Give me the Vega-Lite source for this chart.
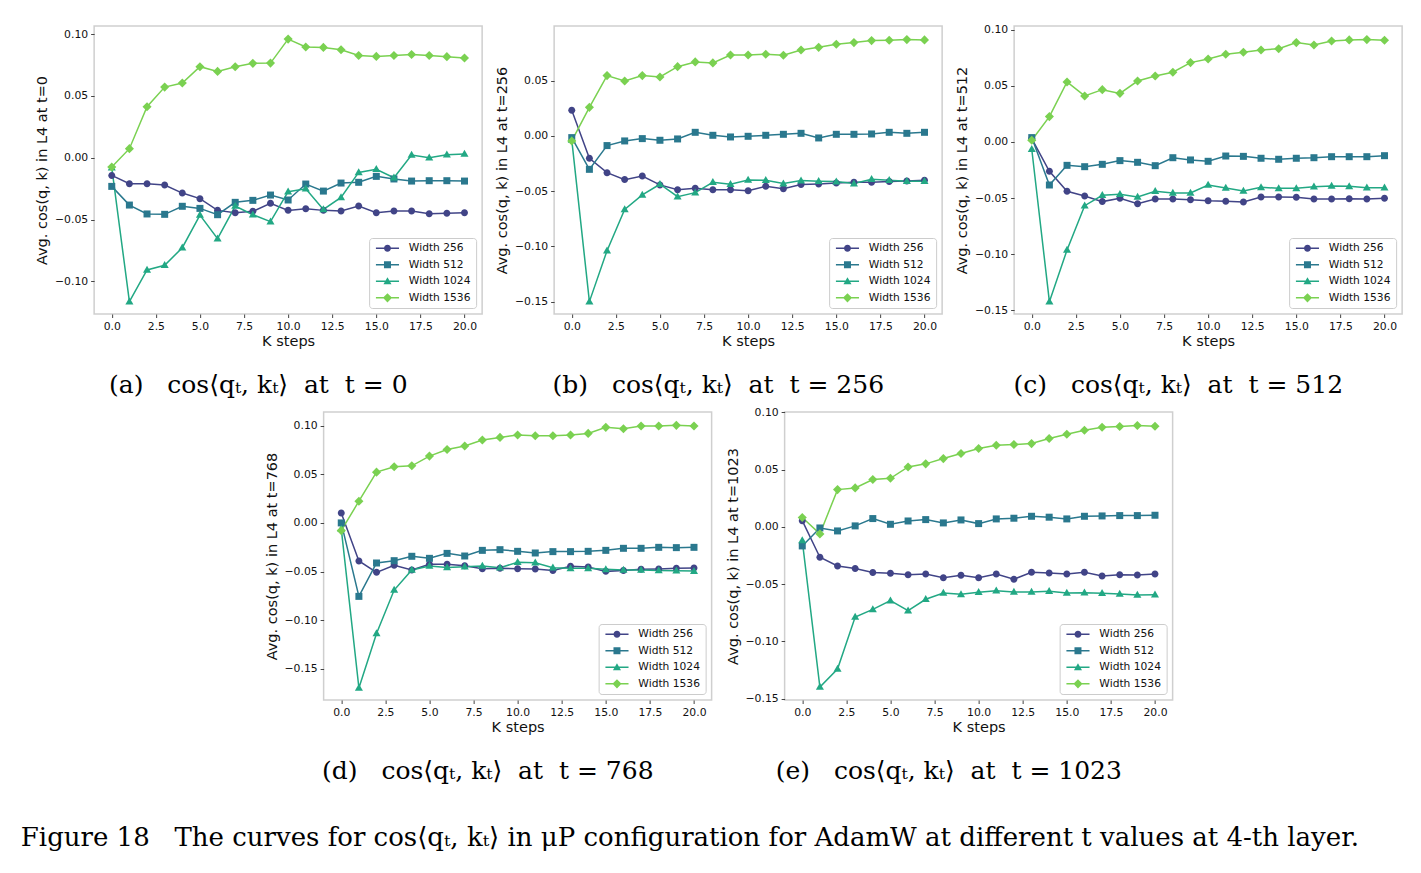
{
"$schema": "https://vega.github.io/schema/vega-lite/v6.json",
"background": "white",
"padding": {"left": 20, "top": 22, "right": 5, "bottom": 5},
"title": {"text": "Figure 18\u00a0\u00a0 The curves for cos⟨qₜ, kₜ⟩ in μP configuration for AdamW at different t values at 4-th layer.", "orient": "bottom", "anchor": "start", "frame": "bounds", "font": "DejaVu Serif", "fontSize": 26, "offset": 40, "dx": -13},
"datasets": {
"a": [
{"k":0,"Width 256":-0.0143,"Width 512":-0.0232,"Width 1024":-0.0080,"Width 1536":-0.0075},
{"k":1,"Width 256":-0.0210,"Width 512":-0.0383,"Width 1024":-0.1164,"Width 1536":0.0073},
{"k":2,"Width 256":-0.0210,"Width 512":-0.0455,"Width 1024":-0.0908,"Width 1536":0.0412},
{"k":3,"Width 256":-0.0221,"Width 512":-0.0458,"Width 1024":-0.0870,"Width 1536":0.0571},
{"k":4,"Width 256":-0.0286,"Width 512":-0.0393,"Width 1024":-0.0728,"Width 1536":0.0604},
{"k":5,"Width 256":-0.0331,"Width 512":-0.0410,"Width 1024":-0.0464,"Width 1536":0.0736},
{"k":6,"Width 256":-0.0426,"Width 512":-0.0461,"Width 1024":-0.0655,"Width 1536":0.0698},
{"k":7,"Width 256":-0.0445,"Width 512":-0.0361,"Width 1024":-0.0391,"Width 1536":0.0736},
{"k":8,"Width 256":-0.0434,"Width 512":-0.0345,"Width 1024":-0.0461,"Width 1536":0.0763},
{"k":9,"Width 256":-0.0369,"Width 512":-0.0302,"Width 1024":-0.0517,"Width 1536":0.0765},
{"k":10,"Width 256":-0.0426,"Width 512":-0.0342,"Width 1024":-0.0275,"Width 1536":0.0959},
{"k":11,"Width 256":-0.0412,"Width 512":-0.0213,"Width 1024":-0.0251,"Width 1536":0.0895},
{"k":12,"Width 256":-0.0426,"Width 512":-0.0270,"Width 1024":-0.0418,"Width 1536":0.0892},
{"k":13,"Width 256":-0.0431,"Width 512":-0.0205,"Width 1024":-0.0321,"Width 1536":0.0873},
{"k":14,"Width 256":-0.0391,"Width 512":-0.0199,"Width 1024":-0.0119,"Width 1536":0.0827},
{"k":15,"Width 256":-0.0445,"Width 512":-0.0151,"Width 1024":-0.0094,"Width 1536":0.0819},
{"k":16,"Width 256":-0.0431,"Width 512":-0.0172,"Width 1024":-0.0162,"Width 1536":0.0827},
{"k":17,"Width 256":-0.0431,"Width 512":-0.0189,"Width 1024":0.0022,"Width 1536":0.0835},
{"k":18,"Width 256":-0.0453,"Width 512":-0.0186,"Width 1024":0.0000,"Width 1536":0.0827},
{"k":19,"Width 256":-0.0450,"Width 512":-0.0186,"Width 1024":0.0024,"Width 1536":0.0817},
{"k":20,"Width 256":-0.0445,"Width 512":-0.0189,"Width 1024":0.0030,"Width 1536":0.0806}
],
"b": [
{"k":0,"Width 256":0.0232,"Width 512":-0.0015,"Width 1024":-0.0036,"Width 1536":-0.0045},
{"k":1,"Width 256":-0.0202,"Width 512":-0.0302,"Width 1024":-0.1499,"Width 1536":0.0259},
{"k":2,"Width 256":-0.0332,"Width 512":-0.0087,"Width 1024":-0.1038,"Width 1536":0.0546},
{"k":3,"Width 256":-0.0395,"Width 512":-0.0045,"Width 1024":-0.0664,"Width 1536":0.0498},
{"k":4,"Width 256":-0.0362,"Width 512":-0.0024,"Width 1024":-0.0534,"Width 1536":0.0546},
{"k":5,"Width 256":-0.0443,"Width 512":-0.0039,"Width 1024":-0.0437,"Width 1536":0.0534},
{"k":6,"Width 256":-0.0486,"Width 512":-0.0027,"Width 1024":-0.0549,"Width 1536":0.0627},
{"k":7,"Width 256":-0.0474,"Width 512":0.0033,"Width 1024":-0.0513,"Width 1536":0.0670},
{"k":8,"Width 256":-0.0486,"Width 512":0.0006,"Width 1024":-0.0419,"Width 1536":0.0661},
{"k":9,"Width 256":-0.0486,"Width 512":-0.0009,"Width 1024":-0.0437,"Width 1536":0.0733},
{"k":10,"Width 256":-0.0495,"Width 512":-0.0003,"Width 1024":-0.0398,"Width 1536":0.0733},
{"k":11,"Width 256":-0.0456,"Width 512":0.0006,"Width 1024":-0.0401,"Width 1536":0.0739},
{"k":12,"Width 256":-0.0477,"Width 512":0.0015,"Width 1024":-0.0431,"Width 1536":0.0730},
{"k":13,"Width 256":-0.0440,"Width 512":0.0024,"Width 1024":-0.0404,"Width 1536":0.0778},
{"k":14,"Width 256":-0.0434,"Width 512":-0.0018,"Width 1024":-0.0410,"Width 1536":0.0802},
{"k":15,"Width 256":-0.0425,"Width 512":0.0015,"Width 1024":-0.0413,"Width 1536":0.0830},
{"k":16,"Width 256":-0.0419,"Width 512":0.0015,"Width 1024":-0.0431,"Width 1536":0.0845},
{"k":17,"Width 256":-0.0419,"Width 512":0.0018,"Width 1024":-0.0392,"Width 1536":0.0863},
{"k":18,"Width 256":-0.0413,"Width 512":0.0033,"Width 1024":-0.0401,"Width 1536":0.0866},
{"k":19,"Width 256":-0.0407,"Width 512":0.0024,"Width 1024":-0.0410,"Width 1536":0.0872},
{"k":20,"Width 256":-0.0401,"Width 512":0.0033,"Width 1024":-0.0410,"Width 1536":0.0869}
],
"c": [
{"k":0,"Width 256":0.0030,"Width 512":0.0039,"Width 1024":-0.0065,"Width 1536":0.0015},
{"k":1,"Width 256":-0.0261,"Width 512":-0.0383,"Width 1024":-0.1422,"Width 1536":0.0226},
{"k":2,"Width 256":-0.0439,"Width 512":-0.0208,"Width 1024":-0.0962,"Width 1536":0.0534},
{"k":3,"Width 256":-0.0481,"Width 512":-0.0220,"Width 1024":-0.0567,"Width 1536":0.0410},
{"k":4,"Width 256":-0.0531,"Width 512":-0.0199,"Width 1024":-0.0475,"Width 1536":0.0466},
{"k":5,"Width 256":-0.0502,"Width 512":-0.0166,"Width 1024":-0.0466,"Width 1536":0.0433},
{"k":6,"Width 256":-0.0549,"Width 512":-0.0181,"Width 1024":-0.0490,"Width 1536":0.0543},
{"k":7,"Width 256":-0.0508,"Width 512":-0.0211,"Width 1024":-0.0439,"Width 1536":0.0588},
{"k":8,"Width 256":-0.0508,"Width 512":-0.0140,"Width 1024":-0.0454,"Width 1536":0.0621},
{"k":9,"Width 256":-0.0514,"Width 512":-0.0160,"Width 1024":-0.0454,"Width 1536":0.0707},
{"k":10,"Width 256":-0.0523,"Width 512":-0.0172,"Width 1024":-0.0383,"Width 1536":0.0739},
{"k":11,"Width 256":-0.0528,"Width 512":-0.0125,"Width 1024":-0.0410,"Width 1536":0.0781},
{"k":12,"Width 256":-0.0534,"Width 512":-0.0128,"Width 1024":-0.0436,"Width 1536":0.0799},
{"k":13,"Width 256":-0.0490,"Width 512":-0.0145,"Width 1024":-0.0404,"Width 1536":0.0819},
{"k":14,"Width 256":-0.0490,"Width 512":-0.0154,"Width 1024":-0.0413,"Width 1536":0.0831},
{"k":15,"Width 256":-0.0493,"Width 512":-0.0145,"Width 1024":-0.0413,"Width 1536":0.0885},
{"k":16,"Width 256":-0.0508,"Width 512":-0.0140,"Width 1024":-0.0398,"Width 1536":0.0864},
{"k":17,"Width 256":-0.0508,"Width 512":-0.0131,"Width 1024":-0.0392,"Width 1536":0.0900},
{"k":18,"Width 256":-0.0505,"Width 512":-0.0131,"Width 1024":-0.0395,"Width 1536":0.0909},
{"k":19,"Width 256":-0.0508,"Width 512":-0.0131,"Width 1024":-0.0407,"Width 1536":0.0912},
{"k":20,"Width 256":-0.0502,"Width 512":-0.0122,"Width 1024":-0.0407,"Width 1536":0.0906}
],
"d": [
{"k":0,"Width 256":0.0103,"Width 512":0.0000,"Width 1024":-0.0062,"Width 1536":-0.0079},
{"k":1,"Width 256":-0.0391,"Width 512":-0.0755,"Width 1024":-0.1696,"Width 1536":0.0223},
{"k":2,"Width 256":-0.0508,"Width 512":-0.0412,"Width 1024":-0.1137,"Width 1536":0.0522},
{"k":3,"Width 256":-0.0436,"Width 512":-0.0388,"Width 1024":-0.0690,"Width 1536":0.0577},
{"k":4,"Width 256":-0.0484,"Width 512":-0.0343,"Width 1024":-0.0484,"Width 1536":0.0587},
{"k":5,"Width 256":-0.0426,"Width 512":-0.0364,"Width 1024":-0.0443,"Width 1536":0.0687},
{"k":6,"Width 256":-0.0426,"Width 512":-0.0313,"Width 1024":-0.0457,"Width 1536":0.0755},
{"k":7,"Width 256":-0.0440,"Width 512":-0.0340,"Width 1024":-0.0450,"Width 1536":0.0790},
{"k":8,"Width 256":-0.0470,"Width 512":-0.0282,"Width 1024":-0.0443,"Width 1536":0.0852},
{"k":9,"Width 256":-0.0467,"Width 512":-0.0275,"Width 1024":-0.0460,"Width 1536":0.0879},
{"k":10,"Width 256":-0.0470,"Width 512":-0.0292,"Width 1024":-0.0405,"Width 1536":0.0903},
{"k":11,"Width 256":-0.0474,"Width 512":-0.0309,"Width 1024":-0.0409,"Width 1536":0.0896},
{"k":12,"Width 256":-0.0488,"Width 512":-0.0295,"Width 1024":-0.0460,"Width 1536":0.0896},
{"k":13,"Width 256":-0.0446,"Width 512":-0.0295,"Width 1024":-0.0467,"Width 1536":0.0903},
{"k":14,"Width 256":-0.0453,"Width 512":-0.0292,"Width 1024":-0.0467,"Width 1536":0.0920},
{"k":15,"Width 256":-0.0498,"Width 512":-0.0282,"Width 1024":-0.0477,"Width 1536":0.0982},
{"k":16,"Width 256":-0.0488,"Width 512":-0.0261,"Width 1024":-0.0484,"Width 1536":0.0968},
{"k":17,"Width 256":-0.0477,"Width 512":-0.0261,"Width 1024":-0.0484,"Width 1536":0.0996},
{"k":18,"Width 256":-0.0474,"Width 512":-0.0251,"Width 1024":-0.0488,"Width 1536":0.0996},
{"k":19,"Width 256":-0.0467,"Width 512":-0.0254,"Width 1024":-0.0491,"Width 1536":0.1003},
{"k":20,"Width 256":-0.0464,"Width 512":-0.0251,"Width 1024":-0.0495,"Width 1536":0.0996}
],
"e": [
{"k":0,"Width 256":0.0055,"Width 512":-0.0166,"Width 1024":-0.0119,"Width 1536":0.0082},
{"k":1,"Width 256":-0.0265,"Width 512":-0.0009,"Width 1024":-0.1399,"Width 1536":-0.0061},
{"k":2,"Width 256":-0.0341,"Width 512":-0.0035,"Width 1024":-0.1241,"Width 1536":0.0326},
{"k":3,"Width 256":-0.0364,"Width 512":0.0009,"Width 1024":-0.0787,"Width 1536":0.0341},
{"k":4,"Width 256":-0.0399,"Width 512":0.0073,"Width 1024":-0.0720,"Width 1536":0.0414},
{"k":5,"Width 256":-0.0405,"Width 512":0.0023,"Width 1024":-0.0644,"Width 1536":0.0425},
{"k":6,"Width 256":-0.0417,"Width 512":0.0052,"Width 1024":-0.0731,"Width 1536":0.0524},
{"k":7,"Width 256":-0.0411,"Width 512":0.0064,"Width 1024":-0.0632,"Width 1536":0.0551},
{"k":8,"Width 256":-0.0443,"Width 512":0.0035,"Width 1024":-0.0577,"Width 1536":0.0597},
{"k":9,"Width 256":-0.0423,"Width 512":0.0061,"Width 1024":-0.0589,"Width 1536":0.0641},
{"k":10,"Width 256":-0.0443,"Width 512":0.0029,"Width 1024":-0.0571,"Width 1536":0.0685},
{"k":11,"Width 256":-0.0411,"Width 512":0.0070,"Width 1024":-0.0557,"Width 1536":0.0714},
{"k":12,"Width 256":-0.0457,"Width 512":0.0076,"Width 1024":-0.0568,"Width 1536":0.0720},
{"k":13,"Width 256":-0.0396,"Width 512":0.0093,"Width 1024":-0.0568,"Width 1536":0.0728},
{"k":14,"Width 256":-0.0402,"Width 512":0.0085,"Width 1024":-0.0562,"Width 1536":0.0772},
{"k":15,"Width 256":-0.0411,"Width 512":0.0070,"Width 1024":-0.0577,"Width 1536":0.0810},
{"k":16,"Width 256":-0.0396,"Width 512":0.0093,"Width 1024":-0.0574,"Width 1536":0.0845},
{"k":17,"Width 256":-0.0428,"Width 512":0.0096,"Width 1024":-0.0580,"Width 1536":0.0871},
{"k":18,"Width 256":-0.0417,"Width 512":0.0099,"Width 1024":-0.0586,"Width 1536":0.0877},
{"k":19,"Width 256":-0.0420,"Width 512":0.0099,"Width 1024":-0.0594,"Width 1536":0.0886},
{"k":20,"Width 256":-0.0411,"Width 512":0.0102,"Width 1024":-0.0592,"Width 1536":0.0880}
]
},
"vconcat": [
{"hconcat": [
{"width": 388, "height": 288, "data": {"name": "a"},
 "transform": [{"fold": ["Width 256","Width 512","Width 1024","Width 1536"], "as": ["series","v"]}],
 "title": {"text": "(a)\u00a0\u00a0 cos⟨qₜ, kₜ⟩\u00a0 at\u00a0 t = 0"},
 "encoding": {
  "x": {"field": "k", "type": "quantitative", "scale": {"domain": [-1, 21], "nice": false, "zero": false}, "axis": {"values": [0,2.5,5,7.5,10,12.5,15,17.5,20], "format": ".1f", "title": "K steps", "labelFlush": false}},
  "y": {"field": "v", "type": "quantitative", "scale": {"domain": [-0.1264, 0.1065], "nice": false, "zero": false}, "axis": {"values": [-0.1,-0.05,0,0.05,0.1], "format": ".2f", "title": "Avg. cos(q, k) in L4 at t=0"}}
 },
 "layer": [
  {"mark": {"type": "line", "strokeWidth": 1.5}, "encoding": {"color": {"field": "series", "type": "nominal", "scale": {"domain": ["Width 256","Width 512","Width 1024","Width 1536"], "range": ["#414487","#2a788e","#22a884","#7ad151"]}, "legend": null}}},
  {"mark": {"type": "point", "filled": true, "opacity": 1, "size": 49}, "encoding": {"color": {"field": "series", "type": "nominal", "scale": {"domain": ["Width 256","Width 512","Width 1024","Width 1536"], "range": ["#414487","#2a788e","#22a884","#7ad151"]}, "legend": null}, "shape": {"field": "series", "type": "nominal", "scale": {"domain": ["Width 256","Width 512","Width 1024","Width 1536"], "range": ["M1,0A1,1 0 1,1 -1,0A1,1 0 1,1 1,0Z", "M-1,-1H1V1H-1Z", "M0,-1.2L1.15,0.8H-1.15Z", "M0,-1.3L1.3,0L0,1.3L-1.3,0Z"]}, "legend": null}}},
  {"transform": [{"filter": "datum.k < -100"}], "mark": {"type": "point", "filled": true, "opacity": 1, "size": 49}, "encoding": {"color": {"field": "series", "type": "nominal", "scale": {"domain": ["Width 256","Width 512","Width 1024","Width 1536"], "range": ["#414487","#2a788e","#22a884","#7ad151"]}, "legend": {"title": null}}, "shape": {"field": "series", "type": "nominal", "scale": {"domain": ["Width 256","Width 512","Width 1024","Width 1536"], "range": ["M-3.3,-0.21H3.3V0.21H-3.3Z M1,0A1,1 0 1,1 -1,0A1,1 0 1,1 1,0Z", "M-3.3,-0.21H3.3V0.21H-3.3Z M-1,-1H1V1H-1Z", "M-3.3,-0.21H3.3V0.21H-3.3Z M0,-1.2L1.15,0.8H-1.15Z", "M-3.3,-0.21H3.3V0.21H-3.3Z M0,-1.3L1.3,0L0,1.3L-1.3,0Z"]}, "legend": {"title": null}}}}
 ],
 "resolve": {"scale": {"color": "independent", "shape": "independent"}}
},
{"width": 388, "height": 288, "data": {"name": "b"},
 "transform": [{"fold": ["Width 256","Width 512","Width 1024","Width 1536"], "as": ["series","v"]}],
 "title": {"text": "(b)\u00a0\u00a0 cos⟨qₜ, kₜ⟩\u00a0 at\u00a0 t = 256"},
 "encoding": {
  "x": {"field": "k", "type": "quantitative", "scale": {"domain": [-1, 21], "nice": false, "zero": false}, "axis": {"values": [0,2.5,5,7.5,10,12.5,15,17.5,20], "format": ".1f", "title": "K steps", "labelFlush": false}},
  "y": {"field": "v", "type": "quantitative", "scale": {"domain": [-0.1611, 0.0995], "nice": false, "zero": false}, "axis": {"values": [-0.15,-0.1,-0.05,0,0.05], "format": ".2f", "title": "Avg. cos(q, k) in L4 at t=256"}}
 },
 "layer": [
  {"mark": {"type": "line", "strokeWidth": 1.5}, "encoding": {"color": {"field": "series", "type": "nominal", "scale": {"domain": ["Width 256","Width 512","Width 1024","Width 1536"], "range": ["#414487","#2a788e","#22a884","#7ad151"]}, "legend": null}}},
  {"mark": {"type": "point", "filled": true, "opacity": 1, "size": 49}, "encoding": {"color": {"field": "series", "type": "nominal", "scale": {"domain": ["Width 256","Width 512","Width 1024","Width 1536"], "range": ["#414487","#2a788e","#22a884","#7ad151"]}, "legend": null}, "shape": {"field": "series", "type": "nominal", "scale": {"domain": ["Width 256","Width 512","Width 1024","Width 1536"], "range": ["M1,0A1,1 0 1,1 -1,0A1,1 0 1,1 1,0Z", "M-1,-1H1V1H-1Z", "M0,-1.2L1.15,0.8H-1.15Z", "M0,-1.3L1.3,0L0,1.3L-1.3,0Z"]}, "legend": null}}},
  {"transform": [{"filter": "datum.k < -100"}], "mark": {"type": "point", "filled": true, "opacity": 1, "size": 49}, "encoding": {"color": {"field": "series", "type": "nominal", "scale": {"domain": ["Width 256","Width 512","Width 1024","Width 1536"], "range": ["#414487","#2a788e","#22a884","#7ad151"]}, "legend": {"title": null}}, "shape": {"field": "series", "type": "nominal", "scale": {"domain": ["Width 256","Width 512","Width 1024","Width 1536"], "range": ["M-3.3,-0.21H3.3V0.21H-3.3Z M1,0A1,1 0 1,1 -1,0A1,1 0 1,1 1,0Z", "M-3.3,-0.21H3.3V0.21H-3.3Z M-1,-1H1V1H-1Z", "M-3.3,-0.21H3.3V0.21H-3.3Z M0,-1.2L1.15,0.8H-1.15Z", "M-3.3,-0.21H3.3V0.21H-3.3Z M0,-1.3L1.3,0L0,1.3L-1.3,0Z"]}, "legend": {"title": null}}}}
 ],
 "resolve": {"scale": {"color": "independent", "shape": "independent"}}
},
{"width": 388, "height": 288, "data": {"name": "c"},
 "transform": [{"fold": ["Width 256","Width 512","Width 1024","Width 1536"], "as": ["series","v"]}],
 "title": {"text": "(c)\u00a0\u00a0 cos⟨qₜ, kₜ⟩\u00a0 at\u00a0 t = 512"},
 "encoding": {
  "x": {"field": "k", "type": "quantitative", "scale": {"domain": [-1, 21], "nice": false, "zero": false}, "axis": {"values": [0,2.5,5,7.5,10,12.5,15,17.5,20], "format": ".1f", "title": "K steps", "labelFlush": false}},
  "y": {"field": "v", "type": "quantitative", "scale": {"domain": [-0.1532, 0.1033], "nice": false, "zero": false}, "axis": {"values": [-0.15,-0.1,-0.05,0,0.05,0.1], "format": ".2f", "title": "Avg. cos(q, k) in L4 at t=512"}}
 },
 "layer": [
  {"mark": {"type": "line", "strokeWidth": 1.5}, "encoding": {"color": {"field": "series", "type": "nominal", "scale": {"domain": ["Width 256","Width 512","Width 1024","Width 1536"], "range": ["#414487","#2a788e","#22a884","#7ad151"]}, "legend": null}}},
  {"mark": {"type": "point", "filled": true, "opacity": 1, "size": 49}, "encoding": {"color": {"field": "series", "type": "nominal", "scale": {"domain": ["Width 256","Width 512","Width 1024","Width 1536"], "range": ["#414487","#2a788e","#22a884","#7ad151"]}, "legend": null}, "shape": {"field": "series", "type": "nominal", "scale": {"domain": ["Width 256","Width 512","Width 1024","Width 1536"], "range": ["M1,0A1,1 0 1,1 -1,0A1,1 0 1,1 1,0Z", "M-1,-1H1V1H-1Z", "M0,-1.2L1.15,0.8H-1.15Z", "M0,-1.3L1.3,0L0,1.3L-1.3,0Z"]}, "legend": null}}},
  {"transform": [{"filter": "datum.k < -100"}], "mark": {"type": "point", "filled": true, "opacity": 1, "size": 49}, "encoding": {"color": {"field": "series", "type": "nominal", "scale": {"domain": ["Width 256","Width 512","Width 1024","Width 1536"], "range": ["#414487","#2a788e","#22a884","#7ad151"]}, "legend": {"title": null}}, "shape": {"field": "series", "type": "nominal", "scale": {"domain": ["Width 256","Width 512","Width 1024","Width 1536"], "range": ["M-3.3,-0.21H3.3V0.21H-3.3Z M1,0A1,1 0 1,1 -1,0A1,1 0 1,1 1,0Z", "M-3.3,-0.21H3.3V0.21H-3.3Z M-1,-1H1V1H-1Z", "M-3.3,-0.21H3.3V0.21H-3.3Z M0,-1.2L1.15,0.8H-1.15Z", "M-3.3,-0.21H3.3V0.21H-3.3Z M0,-1.3L1.3,0L0,1.3L-1.3,0Z"]}, "legend": {"title": null}}}}
 ],
 "resolve": {"scale": {"color": "independent", "shape": "independent"}}
}
], "spacing": 72, "bounds": "flush"},
{"hconcat": [
{"width": 388, "height": 288, "data": {"name": "d"},
 "transform": [{"fold": ["Width 256","Width 512","Width 1024","Width 1536"], "as": ["series","v"]}],
 "title": {"text": "(d)\u00a0\u00a0 cos⟨qₜ, kₜ⟩\u00a0 at\u00a0 t = 768"},
 "encoding": {
  "x": {"field": "k", "type": "quantitative", "scale": {"domain": [-1, 21], "nice": false, "zero": false}, "axis": {"values": [0,2.5,5,7.5,10,12.5,15,17.5,20], "format": ".1f", "title": "K steps", "labelFlush": false}},
  "y": {"field": "v", "type": "quantitative", "scale": {"domain": [-0.1820, 0.1140], "nice": false, "zero": false}, "axis": {"values": [-0.15,-0.1,-0.05,0,0.05,0.1], "format": ".2f", "title": "Avg. cos(q, k) in L4 at t=768"}}
 },
 "layer": [
  {"mark": {"type": "line", "strokeWidth": 1.5}, "encoding": {"color": {"field": "series", "type": "nominal", "scale": {"domain": ["Width 256","Width 512","Width 1024","Width 1536"], "range": ["#414487","#2a788e","#22a884","#7ad151"]}, "legend": null}}},
  {"mark": {"type": "point", "filled": true, "opacity": 1, "size": 49}, "encoding": {"color": {"field": "series", "type": "nominal", "scale": {"domain": ["Width 256","Width 512","Width 1024","Width 1536"], "range": ["#414487","#2a788e","#22a884","#7ad151"]}, "legend": null}, "shape": {"field": "series", "type": "nominal", "scale": {"domain": ["Width 256","Width 512","Width 1024","Width 1536"], "range": ["M1,0A1,1 0 1,1 -1,0A1,1 0 1,1 1,0Z", "M-1,-1H1V1H-1Z", "M0,-1.2L1.15,0.8H-1.15Z", "M0,-1.3L1.3,0L0,1.3L-1.3,0Z"]}, "legend": null}}},
  {"transform": [{"filter": "datum.k < -100"}], "mark": {"type": "point", "filled": true, "opacity": 1, "size": 49}, "encoding": {"color": {"field": "series", "type": "nominal", "scale": {"domain": ["Width 256","Width 512","Width 1024","Width 1536"], "range": ["#414487","#2a788e","#22a884","#7ad151"]}, "legend": {"title": null}}, "shape": {"field": "series", "type": "nominal", "scale": {"domain": ["Width 256","Width 512","Width 1024","Width 1536"], "range": ["M-3.3,-0.21H3.3V0.21H-3.3Z M1,0A1,1 0 1,1 -1,0A1,1 0 1,1 1,0Z", "M-3.3,-0.21H3.3V0.21H-3.3Z M-1,-1H1V1H-1Z", "M-3.3,-0.21H3.3V0.21H-3.3Z M0,-1.2L1.15,0.8H-1.15Z", "M-3.3,-0.21H3.3V0.21H-3.3Z M0,-1.3L1.3,0L0,1.3L-1.3,0Z"]}, "legend": {"title": null}}}}
 ],
 "resolve": {"scale": {"color": "independent", "shape": "independent"}}
},
{"width": 388, "height": 288, "data": {"name": "e"},
 "transform": [{"fold": ["Width 256","Width 512","Width 1024","Width 1536"], "as": ["series","v"]}],
 "title": {"text": "(e)\u00a0\u00a0 cos⟨qₜ, kₜ⟩\u00a0 at\u00a0 t = 1023"},
 "encoding": {
  "x": {"field": "k", "type": "quantitative", "scale": {"domain": [-1, 21], "nice": false, "zero": false}, "axis": {"values": [0,2.5,5,7.5,10,12.5,15,17.5,20], "format": ".1f", "title": "K steps", "labelFlush": false}},
  "y": {"field": "v", "type": "quantitative", "scale": {"domain": [-0.1512, 0.1004], "nice": false, "zero": false}, "axis": {"values": [-0.15,-0.1,-0.05,0,0.05,0.1], "format": ".2f", "title": "Avg. cos(q, k) in L4 at t=1023"}}
 },
 "layer": [
  {"mark": {"type": "line", "strokeWidth": 1.5}, "encoding": {"color": {"field": "series", "type": "nominal", "scale": {"domain": ["Width 256","Width 512","Width 1024","Width 1536"], "range": ["#414487","#2a788e","#22a884","#7ad151"]}, "legend": null}}},
  {"mark": {"type": "point", "filled": true, "opacity": 1, "size": 49}, "encoding": {"color": {"field": "series", "type": "nominal", "scale": {"domain": ["Width 256","Width 512","Width 1024","Width 1536"], "range": ["#414487","#2a788e","#22a884","#7ad151"]}, "legend": null}, "shape": {"field": "series", "type": "nominal", "scale": {"domain": ["Width 256","Width 512","Width 1024","Width 1536"], "range": ["M1,0A1,1 0 1,1 -1,0A1,1 0 1,1 1,0Z", "M-1,-1H1V1H-1Z", "M0,-1.2L1.15,0.8H-1.15Z", "M0,-1.3L1.3,0L0,1.3L-1.3,0Z"]}, "legend": null}}},
  {"transform": [{"filter": "datum.k < -100"}], "mark": {"type": "point", "filled": true, "opacity": 1, "size": 49}, "encoding": {"color": {"field": "series", "type": "nominal", "scale": {"domain": ["Width 256","Width 512","Width 1024","Width 1536"], "range": ["#414487","#2a788e","#22a884","#7ad151"]}, "legend": {"title": null}}, "shape": {"field": "series", "type": "nominal", "scale": {"domain": ["Width 256","Width 512","Width 1024","Width 1536"], "range": ["M-3.3,-0.21H3.3V0.21H-3.3Z M1,0A1,1 0 1,1 -1,0A1,1 0 1,1 1,0Z", "M-3.3,-0.21H3.3V0.21H-3.3Z M-1,-1H1V1H-1Z", "M-3.3,-0.21H3.3V0.21H-3.3Z M0,-1.2L1.15,0.8H-1.15Z", "M-3.3,-0.21H3.3V0.21H-3.3Z M0,-1.3L1.3,0L0,1.3L-1.3,0Z"]}, "legend": {"title": null}}}}
 ],
 "resolve": {"scale": {"color": "independent", "shape": "independent"}}
}
], "spacing": 73, "bounds": "flush"}
],
"spacing": 6,
"center": true,
"config": {
 "font": "DejaVu Sans",
 "view": {"stroke": "#cfcfcf", "strokeWidth": 1.5},
 "axis": {"grid": false, "domain": false, "tickColor": "#444", "tickSize": 3.5, "tickWidth": 1, "labelFont": "DejaVu Sans", "labelFontSize": 10.8, "labelColor": "#111", "labelPadding": 3, "titleFont": "DejaVu Sans", "titleFontSize": 14.5, "titleFontWeight": "normal", "titleColor": "#111"},
 "axisX": {"titlePadding": 3},
 "axisY": {"titlePadding": 5},
 "legend": {"orient": "bottom-right", "offset": 6, "padding": 5, "fillColor": "white", "strokeColor": "#cccccc", "cornerRadius": 3, "labelFont": "DejaVu Sans", "labelFontSize": 10.7, "labelColor": "#111", "symbolSize": 49, "symbolOffset": 8, "labelOffset": 16, "rowPadding": 4.5},
 "title": {"font": "DejaVu Serif", "fontSize": 25, "fontWeight": "normal", "color": "#000", "orient": "bottom", "anchor": "middle", "frame": "bounds", "offset": 25}
}
}
